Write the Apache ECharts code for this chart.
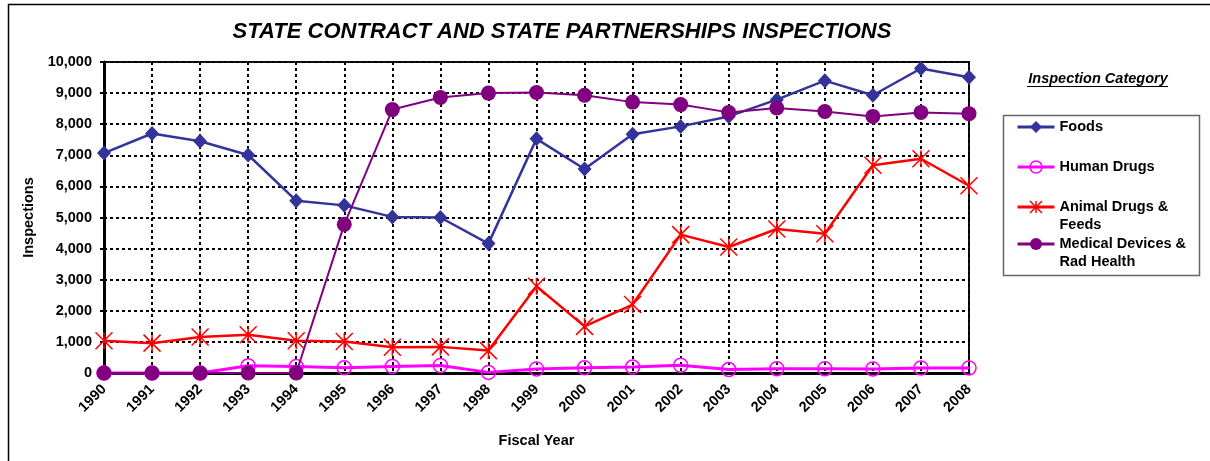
<!DOCTYPE html>
<html>
<head>
<meta charset="utf-8">
<script src="https://cdn.jsdelivr.net/npm/echarts@6/dist/echarts.min.js"></script>
<style>
  html, body { margin: 0; padding: 0; background: #fff; }
  #chart { width: 1210px; height: 461px; }
</style>
</head>
<body>
<div id="chart"></div>
<script>
// Fiscal years on the category axis
const years = ['1990','1991','1992','1993','1994','1995','1996','1997','1998','1999',
               '2000','2001','2002','2003','2004','2005','2006','2007','2008'];

// Inspections per category and year
const foods       = [7070,7700,7450,7010,5540,5390,5020,5000,4160,7530,6560,7680,7930,8250,8790,9400,8930,9790,9510];
const humanDrugs  = [0,0,0,230,210,170,210,240,20,130,170,190,250,110,140,140,130,160,160];
const animalDrugs = [1040,960,1160,1230,1040,1010,830,840,720,2790,1500,2200,4450,4050,4630,4480,6680,6890,6020];
const medDevices  = [0,0,0,0,0,4780,8470,8860,9000,9020,8930,8710,8630,8380,8520,8410,8250,8380,8340];

// Series names and how they read in the legend
const seriesNames  = ['Foods', 'Human Drugs', 'Animal Drugs & Feeds', 'Medical Devices & Rad Health'];
const legendLabels = ['Foods', 'Human Drugs', '\nAnimal Drugs &\nFeeds', '\nMedical Devices &\nRad Health'];

// Y axis scale
const yMin = 0, yMax = 10000, yStep = 1000;

const FONT = "'Liberation Sans', Arial, Helvetica, sans-serif";
const colors = ['#333399', '#FF00FF', '#FF0000', '#800080'];
const asterisk = 'path://M0,0L16,16M16,0L0,16M8,0L8,16';

const chart = echarts.init(document.getElementById('chart'), null, { renderer: 'canvas' });

const lineW = [2.5, 3, 2.5, 2];
const legendTops = [118, 158, 180, 217];

const markStyle = i => i === 1
  ? { color: 'transparent', borderColor: colors[i], borderWidth: 1.5 }
  : i === 2
    ? { color: colors[i], borderColor: colors[i], borderWidth: 1.5 }
    : { color: colors[i], borderWidth: 0 };

const legends = seriesNames.map((name, i) => ({
  data: [name],
  left: 1016,
  top: legendTops[i],
  padding: 0,
  orient: 'vertical',
  itemWidth: 37,
  itemHeight: 15,
  formatter: () => legendLabels[i],
  textStyle: { fontFamily: FONT, fontSize: 14.5, fontWeight: 'bold', color: '#000', lineHeight: 18 },
  lineStyle: { color: colors[i], width: 3 },
  itemStyle: markStyle(i)
}));

const seriesData = [foods, humanDrugs, animalDrugs, medDevices];
const symbols = ['diamond', 'circle', asterisk, 'circle'];
const symbolSizes = [[14, 15], 14, 17, 15];

const series = seriesNames.map((name, i) => ({
  name,
  type: 'line',
  data: seriesData[i],
  symbol: symbols[i],
  symbolSize: symbolSizes[i],
  showSymbol: true,
  showAllSymbol: true,
  clip: false,
  lineStyle: { color: colors[i], width: lineW[i] },
  itemStyle: markStyle(i),
  emphasis: { disabled: true },
  z: 2 + i
}));

chart.setOption({
  animation: false,
  backgroundColor: '#fff',
  textStyle: { fontFamily: FONT },
  title: {
    text: 'STATE CONTRACT AND STATE PARTNERSHIPS INSPECTIONS',
    left: 562,
    top: 21,
    padding: 0,
    textAlign: 'center',
    textStyle: { fontFamily: FONT, fontSize: 22, fontWeight: 'bold', fontStyle: 'italic', color: '#000' }
  },
  legend: legends,
  grid: {
    left: 104, right: 241, top: 62, bottom: 88,
    show: true, borderColor: '#111', borderWidth: 2, backgroundColor: 'transparent'
  },
  xAxis: {
    type: 'category',
    data: years,
    boundaryGap: false,
    name: 'Fiscal Year',
    nameLocation: 'middle',
    nameGap: 60,
    nameTextStyle: { fontFamily: FONT, fontSize: 14.5, fontWeight: 'bold', color: '#000' },
    axisLine: { show: true, onZero: false, lineStyle: { color: '#000', width: 3 } },
    axisTick: { show: false },
    axisLabel: {
      interval: 0, rotate: 45, margin: 14,
      fontFamily: FONT, fontSize: 14.5, fontWeight: 'bold', color: '#000'
    },
    splitLine: { show: true, interval: 0, lineStyle: { color: '#000', width: 2, type: [3, 3] } }
  },
  yAxis: {
    type: 'value',
    min: yMin, max: yMax, interval: yStep,
    name: 'Inspections',
    nameLocation: 'middle',
    nameGap: 67,
    nameTextStyle: { fontFamily: FONT, fontSize: 14.5, fontWeight: 'bold', color: '#000' },
    axisLine: { show: true, lineStyle: { color: '#000', width: 3 } },
    axisTick: { show: true, length: 4, lineStyle: { color: '#000', width: 2 } },
    axisLabel: {
      margin: 12,
      fontFamily: FONT, fontSize: 14.5, fontWeight: 'bold', color: '#000',
      formatter: v => v.toLocaleString('en-US')
    },
    splitLine: { show: true, lineStyle: { color: '#000', width: 2, type: [3, 3] } }
  },
  graphic: [
    // outer frame (left and top edges in view)
    { type: 'rect', silent: true, z: 0,
      shape: { x: 8.5, y: 4.5, width: 1220, height: 470 },
      style: { fill: 'none', stroke: '#000', lineWidth: 1.5 } },
    // legend frame
    { type: 'rect', silent: true, z: 0,
      shape: { x: 1003.5, y: 115.5, width: 196, height: 160 },
      style: { fill: 'none', stroke: '#666', lineWidth: 1.5 } },
    // legend heading
    { type: 'text', silent: true,
      x: 1098, y: 79,
      style: { text: 'Inspection Category', fontFamily: FONT, fontSize: 14.5,
               fontWeight: 'bold', fontStyle: 'italic', fill: '#000',
               align: 'center', verticalAlign: 'middle' } },
    { type: 'line', silent: true,
      shape: { x1: 1027, y1: 86.5, x2: 1168, y2: 86.5 },
      style: { stroke: '#000', lineWidth: 1.2 } }
  ],
  series
});
</script>
</body>
</html>
